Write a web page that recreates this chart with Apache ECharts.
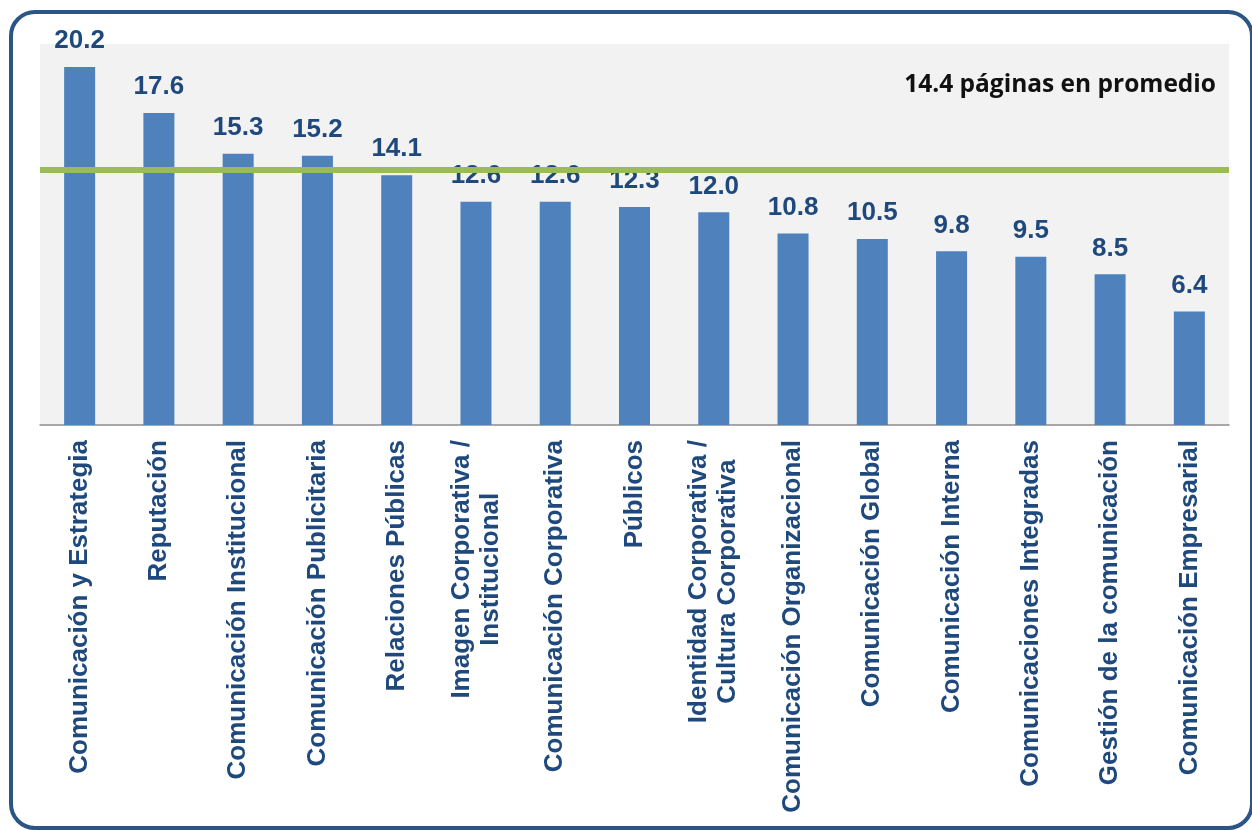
<!DOCTYPE html>
<html>
<head>
<meta charset="utf-8">
<script src="https://cdn.jsdelivr.net/npm/echarts@6/dist/echarts.min.js"></script>
<style>
  html, body { margin: 0; padding: 0; background: #fff; }
  #chart { width: 1252px; height: 830px; }
</style>
</head>
<body>
<div id="chart"></div>
<script>
// categories (two-line names keep their line break)
const categories = [
  'Comunicación y Estrategia',
  'Reputación',
  'Comunicación Institucional',
  'Comunicación Publicitaria',
  'Relaciones Públicas',
  'Imagen Corporativa /\nInstitucional',
  'Comunicación Corporativa',
  'Públicos',
  'Identidad Corporativa /\nCultura Corporativa',
  'Comunicación Organizacional',
  'Comunicación Global',
  'Comunicación Interna',
  'Comunicaciones Integradas',
  'Gestión de la comunicación',
  'Comunicación Empresarial'
];
const pages = [20.2, 17.6, 15.3, 15.2, 14.1, 12.6, 12.6, 12.3, 12.0, 10.8, 10.5, 9.8, 9.5, 8.5, 6.4];
const average = 14.4;
const averageText = '14.4 páginas en promedio';

const darkBlue = '#1F497D';
const chart = echarts.init(document.getElementById('chart'));

const option = {
  animation: false,
  title: {
    text: averageText,
    right: 31,
    top: 68,
    textStyle: { fontFamily: 'Open Sans', fontWeight: 'bold', fontSize: 24.5, color: '#111' }
  },
  graphic: [{
    type: 'rect',
    silent: true,
    shape: { x: 11, y: 12, width: 1241, height: 816, r: 24 },
    style: { fill: 'none', stroke: '#2B5487', lineWidth: 4 }
  }],
  grid: {
    left: 40, right: 23, top: 44, bottom: 405,
    show: true, backgroundColor: '#F2F2F2', borderWidth: 0
  },
  xAxis: {
    type: 'category',
    data: categories,
    axisLine: { lineStyle: { color: '#8C8C8C', width: 1.5 } },
    axisTick: { length: 8, lineStyle: { color: '#8C8C8C', width: 1.5 } },
    axisLabel: {
      interval: 0,
      rotate: 90,
      margin: 15,
      formatter: v => v.split('\n').map(s => '{c|' + s + '}').join('\n'),
      rich: {
        c: {
          align: 'center',
          fontFamily: 'Liberation Sans',
          fontWeight: 'bold',
          fontSize: 26,
          lineHeight: 29,
          color: darkBlue
        }
      }
    }
  },
  yAxis: {
    type: 'value',
    min: 0,
    max: 21.5,
    show: false,
    splitLine: { show: false }
  },
  series: [
    {
      type: 'bar',
      data: pages,
      barWidth: 31,
      itemStyle: { color: '#4F81BD' },
      label: {
        show: true,
        position: 'top',
        distance: 13,
        formatter: p => p.value.toFixed(1),
        fontFamily: 'Liberation Sans',
        fontWeight: 'bold',
        fontSize: 26,
        color: darkBlue
      }
    },
    {
      type: 'line',
      data: [],
      z: 10,
      markLine: {
        silent: true,
        symbol: 'none',
        label: { show: false },
        lineStyle: { color: '#9BBB59', width: 6, type: 'solid' },
        data: [{ yAxis: average }]
      }
    }
  ]
};

chart.setOption(option);
</script>
</body>
</html>
